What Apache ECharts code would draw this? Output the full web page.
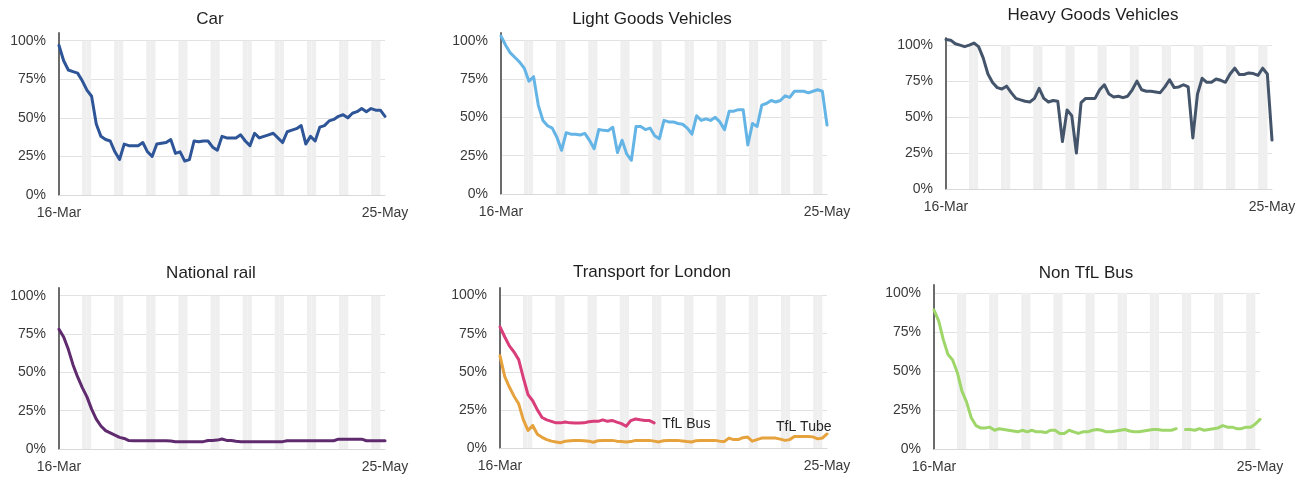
<!DOCTYPE html>
<html>
<head>
<meta charset="utf-8">
<title>Transport use since 16 March</title>
<script src="https://cdn.jsdelivr.net/npm/echarts@6/dist/echarts.min.js"></script>
<style>
  html, body { margin: 0; padding: 0; background: #fff; }
  #chart { width: 1303px; height: 478px; }
</style>
</head>
<body>
<div id="chart"></div>
<script>
var dates = ['16-Mar','17-Mar','18-Mar','19-Mar','20-Mar','21-Mar','22-Mar','23-Mar','24-Mar','25-Mar',
  '26-Mar','27-Mar','28-Mar','29-Mar','30-Mar','31-Mar','01-Apr','02-Apr','03-Apr','04-Apr',
  '05-Apr','06-Apr','07-Apr','08-Apr','09-Apr','10-Apr','11-Apr','12-Apr','13-Apr','14-Apr',
  '15-Apr','16-Apr','17-Apr','18-Apr','19-Apr','20-Apr','21-Apr','22-Apr','23-Apr','24-Apr',
  '25-Apr','26-Apr','27-Apr','28-Apr','29-Apr','30-Apr','01-May','02-May','03-May','04-May',
  '05-May','06-May','07-May','08-May','09-May','10-May','11-May','12-May','13-May','14-May',
  '15-May','16-May','17-May','18-May','19-May','20-May','21-May','22-May','23-May','24-May','25-May'];

// Saturdays and Sundays (grey shading)
var weekendIdx = [5,6,12,13,19,20,26,27,33,34,40,41,47,48,54,55,61,62,68,69];

var car = [97,87,81,80,79,74,68,64,46,38, 36,35,28,23,33,32,32,32,34,28,
  25,33,33.5,34,36,27,28,22,23,35, 34.5,35,35,31,29,38,37,37,37,39,
  35,32,40,37,38,39,40,37,34,41, 42,43,45,33,38,35,44,45,48,49,
  51,52,50,53,54,56,54,56,55,55, 51];

var lgv = [103,97,92,89,86,82,73.5,76.5,58,48, 44.5,43,37,28.5,40,39,39,38.5,39.5,35,
  29.5,42,41.5,41.3,43.5,27,35,26,22,44, 44,42,43,38,36,48,47,47,46,45.5,
  43,39,51,48,49,48,50,47,42,54, 54,55,55,32,46,44,58,59,61,60,
  61,64,63,67,67,67,66,67,68,67, 45];

var hgv = [104,103.5,101,100,99,100,101.5,99,91,80, 74,70.5,69.5,71.5,67,63,62,61,60.5,63,
  70,63,60.5,61.5,61,33,55,51,25,60, 63,63,63,69,72.5,66,64,64.5,63.5,64.5,
  69,75,69,68,68,67.5,67,71,76,70.5, 71,72.5,71,35.5,66,77,74.2,74.2,76.5,75.6,
  74.2,80,84,79.6,79.6,80.7,80.3,79,84,80, 34];

var rail = [78,73,65,55,47,40,34,26,19.5,15, 12,10.5,9,7.6,6.9,5.5,5.4,5.4,5.4,5.4,
  5.4,5.4,5.4,5.4,5.2,4.8,4.8,4.8,4.8,4.8, 4.8,4.8,5.5,5.6,5.8,6.5,5.6,5.5,5,4.8,
  4.8,4.8,4.8,4.8,4.8,4.8,4.8,4.8,4.8,5.4, 5.4,5.4,5.4,5.4,5.4,5.4,5.4,5.4,5.4,5.4,
  6.4,6.4,6.4,6.4,6.4,6.4,5.4,5.4,5.4,5.4, 5.4];

var tflBus = [79.5,73,67,63,58,46,35,31,25,20, 18.5,17.5,16.5,16.5,17,16.5,16.4,16.4,16.5,17.2,
  17.5,17.5,18.5,17.5,18.1,17,16,14.3,18,19, 18.5,18.1,18,16.5,null,null,null,null,null,null,
  null,null,null,null,null,null,null,null,null,null, null,null,null,null,null,null,null,null,null,null,
  null,null,null,null,null,null,null,null,null,null, null];

var tflTube = [60.5,47,40,34,29,18.5,11.5,14.8,9,7, 5.5,4.5,4,3.5,4.5,4.8,5,5,4.8,4.5,
  3.8,4.8,5,5,5,4.5,4.2,3.9,4.2,5, 5,5,5,4.5,4,4.8,5,5,5,4.6,
  4.2,3.9,4.8,5,5,5,5,4.5,4.2,6.5, 5.5,5.5,6.8,7.2,4.5,5.5,6.5,6.5,6.5,6.5,
  5.8,5,5.5,7.5,7.5,7.5,7.5,7.3,6,6.5, 9.2];

var nonTflBus = [89,82,70,60.5,57,49,37,30,20,15, 13.5,13.5,14,12,13,12.5,12,11.5,11,12,
  11,12,11,11,10.5,12,12,10,10,12, 11,10,11,11,12,12.5,12,11,11,11.5,
  12,12.5,11.5,11,11,11.5,12,12.5,12.5,12, 12,12,13,null,12.5,12.5,12,13,12,12.5,
  13,13.5,15,14,14,13,13,14,14,16, 19];

var FONT = '"Liberation Sans", Arial, sans-serif';

var panels = [
  { title: 'Car', tx: 210, ty: 19, grid: { left: 59, top: 33, width: 326, height: 162 },
    lines: [{ name: 'Car', data: car, color: '#2E5597' }] },
  { title: 'Light Goods Vehicles', tx: 652, ty: 19, grid: { left: 501, top: 33, width: 326, height: 161 },
    lines: [{ name: 'Light Goods Vehicles', data: lgv, color: '#64B4E6' }] },
  { title: 'Heavy Goods Vehicles', tx: 1093, ty: 15, grid: { left: 946, top: 38, width: 326, height: 151 },
    lines: [{ name: 'Heavy Goods Vehicles', data: hgv, color: '#44546A' }] },
  { title: 'National rail', tx: 211, ty: 273, grid: { left: 59, top: 288, width: 326, height: 161 },
    lines: [{ name: 'National rail', data: rail, color: '#5F2A6E' }] },
  { title: 'Transport for London', tx: 652, ty: 272, grid: { left: 500, top: 288, width: 327, height: 160 },
    lines: [
      { name: 'TfL Bus', data: tflBus, color: '#D93D7A', endLabel: { offset: [2, 1] } },
      { name: 'TfL Tube', data: tflTube, color: '#E6A23C', endLabel: { offset: [-57, -7] } }
    ] },
  { title: 'Non TfL Bus', tx: 1086, ty: 273, grid: { left: 934, top: 285, width: 326, height: 164 },
    lines: [{ name: 'Non TfL Bus', data: nonTflBus, color: '#9ED66A' }] }
];

var shade = dates.map(function(d, i) { return weekendIdx.indexOf(i) >= 0 ? 100 : '-'; });

var grids = [], xAxes = [], yAxes = [], series = [], graphics = [];

panels.forEach(function(p, i) {
  grids.push(Object.assign({ outerBoundsMode: 'none', containLabel: false }, p.grid));

  // band axis used only for the weekend columns
  xAxes.push({ type: 'category', gridIndex: i, position: 'bottom', data: dates, boundaryGap: true, show: false });
  xAxes.push({
    type: 'category', gridIndex: i, position: 'bottom', data: dates, boundaryGap: false,
    axisLine: { lineStyle: { color: '#d9d9d9', width: 1 } },
    axisTick: { show: false },
    axisLabel: {
      interval: function(idx) { return idx === 0 || idx === dates.length - 1; },
      margin: 11, color: '#3a3a3a', fontSize: 14, fontFamily: FONT
    }
  });
  yAxes.push({
    type: 'value', gridIndex: i, min: 0, max: 105, interval: 25,
    axisLine: { show: true, lineStyle: { color: '#6b6b6b', width: 2 } },
    axisTick: { show: false },
    axisLabel: { formatter: '{value}%', showMaxLabel: false, margin: 13, color: '#3a3a3a', fontSize: 14, fontFamily: FONT },
    splitLine: { show: true, showMaxLine: false, lineStyle: { color: '#e2e2e2', width: 1 } }
  });

  series.push({
    type: 'bar', xAxisIndex: 2 * i, yAxisIndex: i, data: shade,
    barCategoryGap: '0%', silent: true, itemStyle: { color: '#efefef' }, z: 1
  });

  p.lines.forEach(function(l) {
    var s = {
      type: 'line', name: l.name, xAxisIndex: 2 * i + 1, yAxisIndex: i, data: l.data,
      symbol: 'none', showSymbol: false, connectNulls: false, z: 3,
      lineStyle: { color: l.color, width: 3, join: 'round', cap: 'round' },
      itemStyle: { color: l.color }
    };
    if (l.endLabel) {
      s.endLabel = Object.assign({
        show: true, formatter: l.name, color: '#262626', fontSize: 14, fontFamily: FONT, distance: 6
      }, l.endLabel);
    }
    series.push(s);
  });

  graphics.push({
    type: 'text', x: p.tx, y: p.ty,
    style: { text: p.title, fill: '#1f1f1f', font: '17px ' + FONT, textAlign: 'center', textVerticalAlign: 'middle' }
  });
});

var chart = echarts.init(document.getElementById('chart'));
chart.setOption({
  animation: false,
  backgroundColor: '#fff',
  textStyle: { fontFamily: FONT },
  grid: grids,
  xAxis: xAxes,
  yAxis: yAxes,
  series: series,
  graphic: graphics
});
</script>
</body>
</html>
